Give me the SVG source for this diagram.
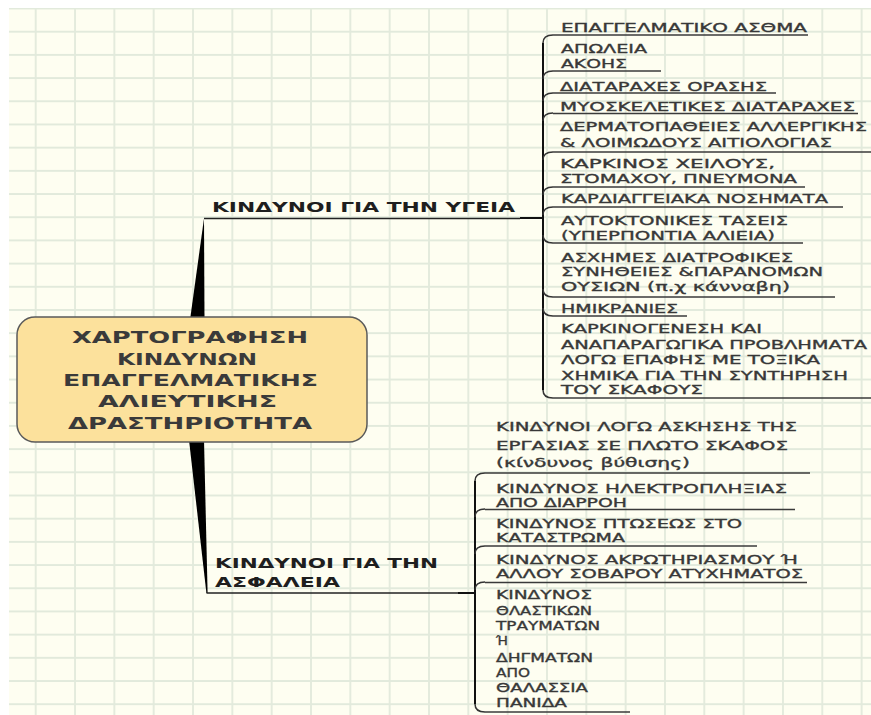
<svg xmlns="http://www.w3.org/2000/svg" width="871" height="715" viewBox="0 0 871 715">
<defs>
<pattern id="grid" patternUnits="userSpaceOnUse" x="16.03" y="20.1" width="39.33" height="23.19">
<rect width="39.33" height="23.19" fill="#FEFEF1"/>
<line x1="19.67" y1="0" x2="19.67" y2="23.19" stroke="#E2EADC" stroke-width="1.8"/>
<line x1="0" y1="11.6" x2="39.33" y2="11.6" stroke="#E2EADC" stroke-width="1.8"/>
</pattern>
<style>
.ctr{font-family:"DejaVu Sans","Liberation Sans",sans-serif;font-weight:bold;font-size:16px;fill:#3a3a3a}
.top{font-family:"DejaVu Sans","Liberation Sans",sans-serif;font-weight:bold;font-size:14px;fill:#1e1e1e}
.it{font-family:"DejaVu Sans","Liberation Sans",sans-serif;font-size:12.5px;fill:#383838;stroke:#383838;stroke-width:0.35}
.ul{stroke:#3a3a3a;stroke-width:1.5;fill:none}
.bar{stroke:#111;stroke-width:2;fill:none}
.jn{stroke:#333;stroke-width:1.5;fill:none}
.pl{stroke:#222;stroke-width:1.5;fill:none}
.wedge{fill:#000}
</style>
</defs>
<rect width="871" height="715" fill="#FFFFFF"/>
<rect x="9" y="8" width="862" height="707" fill="url(#grid)"/>

<g id="connectors">
<polygon class="wedge" points="190,320 204,218.5 204.5,320"/>
<polygon class="wedge" points="189,440 204,440 207.6,593 206.4,593"/>
<line class="pl" x1="204" y1="218.5" x2="520" y2="218.5"/>
<line class="bar" x1="520" y1="218" x2="543" y2="218"/>
<line class="pl" x1="206.5" y1="593" x2="458" y2="593"/>
<line class="bar" x1="458" y1="593" x2="475" y2="593"/>
<line class="bar" x1="543" y1="43" x2="543" y2="390"/>
<line class="bar" x1="475" y1="481" x2="475" y2="704"/>
<path class="jn" d="M543,43 Q543,35 553,35"/>
<path class="jn" d="M543,79 Q543,71 553,71"/>
<path class="jn" d="M543,101 Q543,93 553,93"/>
<path class="jn" d="M543,121 Q543,113 553,113"/>
<path class="jn" d="M543,160 Q543,152 553,152"/>
<path class="jn" d="M543,195 Q543,187 553,187"/>
<path class="jn" d="M543,215 Q543,207 553,207"/>
<path class="jn" d="M543,235 Q543,243 553,243"/>
<path class="jn" d="M543,289 Q543,297 553,297"/>
<path class="jn" d="M543,308 Q543,316 553,316"/>
<path class="jn" d="M543,390 Q543,398 553,398"/>
<path class="jn" d="M475,481 Q475,473 485,473"/>
<path class="jn" d="M475,517 Q475,509 485,509"/>
<path class="jn" d="M475,554 Q475,546 485,546"/>
<path class="jn" d="M475,590 Q475,582 485,582"/>
<path class="jn" d="M475,704 Q475,712 485,712"/>
</g>

<g id="central">
<rect x="17" y="317" width="350" height="125" rx="18" ry="18" fill="#FCE19C" stroke="#5a5a5a" stroke-width="1.5"/>
<text class="ctr" x="72" y="343" textLength="236" lengthAdjust="spacingAndGlyphs">ΧΑΡΤΟΓΡΑΦΗΣΗ</text>
<text class="ctr" x="117" y="365" textLength="140" lengthAdjust="spacingAndGlyphs">ΚΙΝΔΥΝΩΝ</text>
<text class="ctr" x="63" y="386" textLength="255" lengthAdjust="spacingAndGlyphs">ΕΠΑΓΓΕΛΜΑΤΙΚΗΣ</text>
<text class="ctr" x="98" y="407" textLength="179" lengthAdjust="spacingAndGlyphs">ΑΛΙΕΥΤΙΚΗΣ</text>
<text class="ctr" x="68" y="429" textLength="244" lengthAdjust="spacingAndGlyphs">ΔΡΑΣΤΗΡΙΟΤΗΤΑ</text>
</g>

<g id="health">
<text class="top" x="212" y="212" textLength="303" lengthAdjust="spacingAndGlyphs">ΚΙΝΔΥΝΟΙ ΓΙΑ ΤΗΝ ΥΓΕΙΑ</text>
</g>

<g id="safety">
<text class="top" x="215" y="568" textLength="223" lengthAdjust="spacingAndGlyphs">ΚΙΝΔΥΝΟΙ ΓΙΑ ΤΗΝ</text>
<text class="top" x="215" y="586.5" textLength="125" lengthAdjust="spacingAndGlyphs">ΑΣΦΑΛΕΙΑ</text>
</g>

<g id="h1">
<text class="it" x="561" y="31.7" textLength="246" lengthAdjust="spacingAndGlyphs">ΕΠΑΓΓΕΛΜΑΤΙΚΟ ΑΣΘΜΑ</text>
<line class="ul" x1="553" y1="35" x2="808" y2="35"/>
</g>
<g id="h2">
<text class="it" x="561" y="53.3" textLength="86" lengthAdjust="spacingAndGlyphs">ΑΠΩΛΕΙΑ</text>
<text class="it" x="561" y="68.3" textLength="66" lengthAdjust="spacingAndGlyphs">ΑΚΟΗΣ</text>
<line class="ul" x1="553" y1="71" x2="661" y2="71"/>
</g>
<g id="h3">
<text class="it" x="560" y="90.7" textLength="207" lengthAdjust="spacingAndGlyphs">ΔΙΑΤΑΡΑΧΕΣ ΟΡΑΣΗΣ</text>
<line class="ul" x1="553" y1="93" x2="776" y2="93"/>
</g>
<g id="h4">
<text class="it" x="560" y="110.7" textLength="295" lengthAdjust="spacingAndGlyphs">ΜΥΟΣΚΕΛΕΤΙΚΕΣ ΔΙΑΤΑΡΑΧΕΣ</text>
<line class="ul" x1="553" y1="113.5" x2="858" y2="113.5"/>
</g>
<g id="h5">
<text class="it" x="560" y="130.7" textLength="307" lengthAdjust="spacingAndGlyphs">ΔΕΡΜΑΤΟΠΑΘΕΙΕΣ ΑΛΛΕΡΓΙΚΗΣ</text>
<text class="it" x="560" y="147.3" textLength="272" lengthAdjust="spacingAndGlyphs">&amp; ΛΟΙΜΩΔΟΥΣ ΑΙΤΙΟΛΟΓΙΑΣ</text>
<line class="ul" x1="553" y1="152" x2="871" y2="152"/>
</g>
<g id="h6">
<text class="it" x="560" y="168.3" textLength="215" lengthAdjust="spacingAndGlyphs">ΚΑΡΚΙΝΟΣ ΧΕΙΛΟΥΣ,</text>
<text class="it" x="560" y="183.3" textLength="237" lengthAdjust="spacingAndGlyphs">ΣΤΟΜΑΧΟΥ, ΠΝΕΥΜΟΝΑ</text>
<line class="ul" x1="553" y1="187" x2="805" y2="187"/>
</g>
<g id="h7">
<text class="it" x="561" y="203.3" textLength="267" lengthAdjust="spacingAndGlyphs">ΚΑΡΔΙΑΓΓΕΙΑΚΑ ΝΟΣΗΜΑΤΑ</text>
<line class="ul" x1="553" y1="207" x2="843" y2="207"/>
</g>
<g id="h8">
<text class="it" x="561" y="225" textLength="227" lengthAdjust="spacingAndGlyphs">ΑΥΤΟΚΤΟΝΙΚΕΣ ΤΑΣΕΙΣ</text>
<text class="it" x="561" y="240" textLength="214" lengthAdjust="spacingAndGlyphs">(ΥΠΕΡΠΟΝΤΙΑ ΑΛΙΕΙΑ)</text>
<line class="ul" x1="553" y1="243" x2="803" y2="243"/>
</g>
<g id="h9">
<text class="it" x="561" y="261.7" textLength="232" lengthAdjust="spacingAndGlyphs">ΑΣΧΗΜΕΣ ΔΙΑΤΡΟΦΙΚΕΣ</text>
<text class="it" x="561" y="276" textLength="262" lengthAdjust="spacingAndGlyphs">ΣΥΝΗΘΕΙΕΣ &amp;ΠΑΡΑΝΟΜΩΝ</text>
<text class="it" x="561" y="291" textLength="229" lengthAdjust="spacingAndGlyphs">ΟΥΣΙΩΝ (π.χ κάνναβη)</text>
<line class="ul" x1="553" y1="297" x2="835" y2="297"/>
</g>
<g id="h10">
<text class="it" x="561" y="312.7" textLength="117" lengthAdjust="spacingAndGlyphs">ΗΜΙΚΡΑΝΙΕΣ</text>
<line class="ul" x1="553" y1="316" x2="687" y2="316"/>
</g>
<g id="h11">
<text class="it" x="561" y="333.3" textLength="201" lengthAdjust="spacingAndGlyphs">ΚΑΡΚΙΝΟΓΕΝΕΣΗ ΚΑΙ</text>
<text class="it" x="561" y="349.3" textLength="306" lengthAdjust="spacingAndGlyphs">ΑΝΑΠΑΡΑΓΩΓΙΚΑ ΠΡΟΒΛΗΜΑΤΑ</text>
<text class="it" x="561" y="364.3" textLength="259" lengthAdjust="spacingAndGlyphs">ΛΟΓΩ ΕΠΑΦΗΣ ΜΕ ΤΟΞΙΚΑ</text>
<text class="it" x="561" y="380" textLength="287" lengthAdjust="spacingAndGlyphs">ΧΗΜΙΚΑ ΓΙΑ ΤΗΝ ΣΥΝΤΗΡΗΣΗ</text>
<text class="it" x="561" y="394.3" textLength="142" lengthAdjust="spacingAndGlyphs">ΤΟΥ ΣΚΑΦΟΥΣ</text>
<line class="ul" x1="553" y1="398" x2="871" y2="398"/>
</g>

<g id="s1">
<text class="it" x="496" y="430.7" textLength="301" lengthAdjust="spacingAndGlyphs">ΚΙΝΔΥΝΟΙ ΛΟΓΩ ΑΣΚΗΣΗΣ ΤΗΣ</text>
<text class="it" x="496" y="450" textLength="292" lengthAdjust="spacingAndGlyphs">ΕΡΓΑΣΙΑΣ ΣΕ ΠΛΩΤΟ ΣΚΑΦΟΣ</text>
<text class="it" x="496" y="467.3" textLength="194" lengthAdjust="spacingAndGlyphs">(κίνδυνος βύθισης)</text>
<line class="ul" x1="485" y1="473" x2="810" y2="473"/>
</g>
<g id="s2">
<text class="it" x="496" y="493.3" textLength="291" lengthAdjust="spacingAndGlyphs">ΚΙΝΔΥΝΟΣ ΗΛΕΚΤΡΟΠΛΗΞΙΑΣ</text>
<text class="it" x="496" y="506.7" textLength="131" lengthAdjust="spacingAndGlyphs">ΑΠΟ ΔΙΑΡΡΟΗ</text>
<line class="ul" x1="485" y1="509.5" x2="795" y2="509.5"/>
</g>
<g id="s3">
<text class="it" x="496" y="528.3" textLength="246" lengthAdjust="spacingAndGlyphs">ΚΙΝΔΥΝΟΣ ΠΤΩΣΕΩΣ ΣΤΟ</text>
<text class="it" x="496" y="541.7" textLength="129" lengthAdjust="spacingAndGlyphs">ΚΑΤΑΣΤΡΩΜΑ</text>
<line class="ul" x1="485" y1="546" x2="757" y2="546"/>
</g>
<g id="s4">
<text class="it" x="496" y="564.3" textLength="302" lengthAdjust="spacingAndGlyphs">ΚΙΝΔΥΝΟΣ ΑΚΡΩΤΗΡΙΑΣΜΟΥ Ή</text>
<text class="it" x="496" y="578.3" textLength="307" lengthAdjust="spacingAndGlyphs">ΑΛΛΟΥ ΣΟΒΑΡΟΥ ΑΤΥΧΗΜΑΤΟΣ</text>
<line class="ul" x1="485" y1="582.5" x2="807" y2="582.5"/>
</g>
<g id="s5">
<text class="it" x="496" y="599.3" textLength="96" lengthAdjust="spacingAndGlyphs">ΚΙΝΔΥΝΟΣ</text>
<text class="it" x="496" y="615" textLength="96" lengthAdjust="spacingAndGlyphs">ΘΛΑΣΤΙΚΩΝ</text>
<text class="it" x="496" y="630" textLength="104" lengthAdjust="spacingAndGlyphs">ΤΡΑΥΜΑΤΩΝ</text>
<text class="it" x="496" y="645" textLength="12" lengthAdjust="spacingAndGlyphs">Ή</text>
<text class="it" x="496" y="661.7" textLength="97" lengthAdjust="spacingAndGlyphs">ΔΗΓΜΑΤΩΝ</text>
<text class="it" x="496" y="676.7" textLength="34" lengthAdjust="spacingAndGlyphs">ΑΠΟ</text>
<text class="it" x="496" y="691.7" textLength="92" lengthAdjust="spacingAndGlyphs">ΘΑΛΑΣΣΙΑ</text>
<text class="it" x="496" y="706.7" textLength="71" lengthAdjust="spacingAndGlyphs">ΠΑΝΙΔΑ</text>
<line class="ul" x1="485" y1="712" x2="630" y2="712"/>
</g>
</svg>
